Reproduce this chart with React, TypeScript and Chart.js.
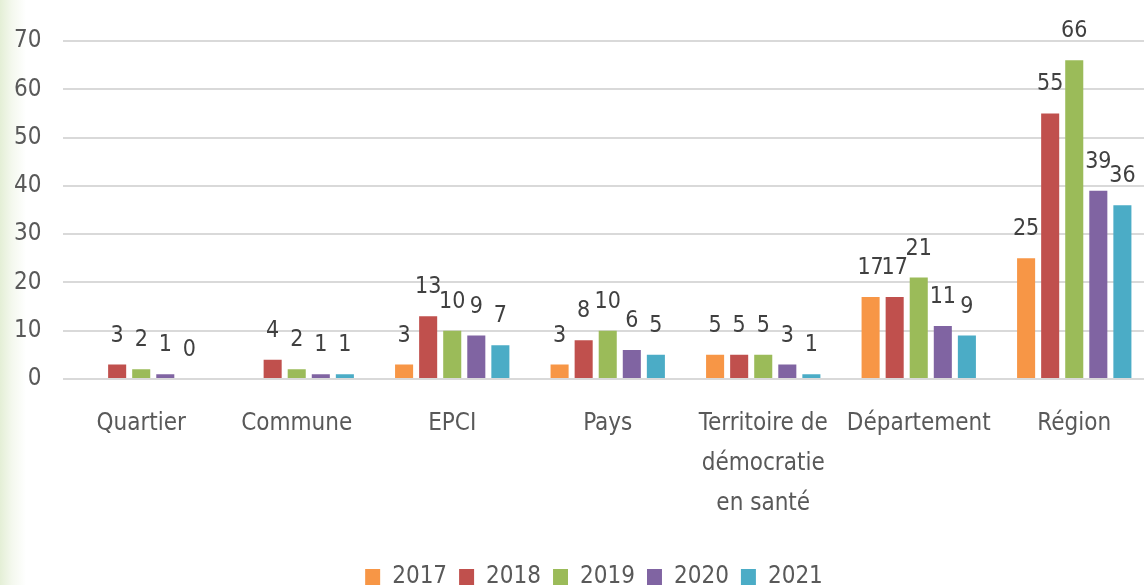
import React, { useEffect, useRef } from "react";
import { Chart, registerables } from "chart.js";

Chart.register(...registerables);

const categories: (string | string[])[] = [
  "Quartier",
  "Commune",
  "EPCI",
  "Pays",
  ["Territoire de", "démocratie", "en santé"],
  "Département",
  "Région",
];
const seriesNames = ["2017", "2018", "2019", "2020", "2021"];
const values2017 = [null, null, 3, 3, 5, 17, 25];
const values2018 = [3, 4, 13, 8, 5, 17, 55];
const values2019 = [2, 2, 10, 10, 5, 21, 66];
const values2020 = [1, 1, 9, 6, 3, 11, 39];
const values2021 = [0, 1, 7, 5, 1, 9, 36];
const colors = ["#F79646", "#C0504D", "#9BBB59", "#8064A2", "#4BACC6"];
const yTicks = [0, 10, 20, 30, 40, 50, 60, 70];

const FONT = "'DejaVu Sans Condensed', 'DejaVu Sans', sans-serif";

const dataLabels = {
  id: "dataLabels",
  afterDatasetsDraw(chart: any) {
    const ctx = chart.ctx;
    ctx.save();
    ctx.font = `23px ${FONT}`;
    ctx.fillStyle = "#404040";
    ctx.textAlign = "center";
    ctx.textBaseline = "alphabetic";
    chart.data.datasets.forEach((ds: any, i: number) => {
      const meta = chart.getDatasetMeta(i);
      meta.data.forEach((el: any, j: number) => {
        const v = ds.data[j];
        if (v === null || v === undefined) return;
        ctx.fillText(String(v), el.x, el.y - 23);
      });
    });
    ctx.restore();
  },
};

const legendShift = {
  id: "legendShift",
  afterLayout(chart: any) {
    if (chart.legend) {
      chart.legend.left += 22;
      chart.legend.right += 22;
    }
  },
};

export default function App() {
  const ref = useRef<HTMLCanvasElement | null>(null);
  useEffect(() => {
    if (!ref.current) return;
    const all = [values2017, values2018, values2019, values2020, values2021];
    const chart = new Chart(ref.current, {
      type: "bar",
      data: {
        labels: categories,
        datasets: seriesNames.map((name, i) => ({
          label: name,
          data: all[i],
          backgroundColor: colors[i],
          borderWidth: 0,
          categoryPercentage: 0.774,
          barPercentage: 0.75,
        })),
      },
      options: {
        responsive: false,
        animation: false,
        layout: { padding: { top: 41, left: -8, right: 0, bottom: -14 } },
        plugins: {
          tooltip: { enabled: false },
          legend: {
            position: "bottom",
            labels: {
              color: "#595959",
              font: { family: FONT, size: 24, lineHeight: 0.5 },
              boxWidth: 15,
              boxHeight: 16,
              padding: 12,
            },
          },
        },
        scales: {
          x: {
            grid: { display: false },
            border: { display: false },
            ticks: {
              color: "#595959",
              font: { family: FONT, size: 24, lineHeight: 1.66 },
              padding: 17,
              maxRotation: 0,
              autoSkip: false,
            },
            afterFit: (scale: any) => {
              scale.height = 174;
            },
          },
          y: {
            min: 0,
            max: 70,
            afterBuildTicks: (scale: any) => {
              scale.ticks = yTicks.map((v) => ({ value: v }));
            },
            grid: { color: "#d9d9d9", lineWidth: 2, drawTicks: false },
            border: { display: false },
            ticks: {
              color: "#595959",
              font: { family: FONT, size: 24 },
              padding: 22,
            },
          },
        },
      },
      plugins: [dataLabels, legendShift],
    });
    return () => chart.destroy();
  }, []);

  return (
    <div
      style={{
        position: "fixed",
        left: 0,
        top: 0,
        width: 1144,
        height: 585,
        overflow: "hidden",
        background: "linear-gradient(to right, #e4efd6 0px, #f4f8ee 12px, #ffffff 26px)",
      }}
    >
      <canvas ref={ref} width={1152} height={585} style={{ display: "block" }} />
    </div>
  );
}
